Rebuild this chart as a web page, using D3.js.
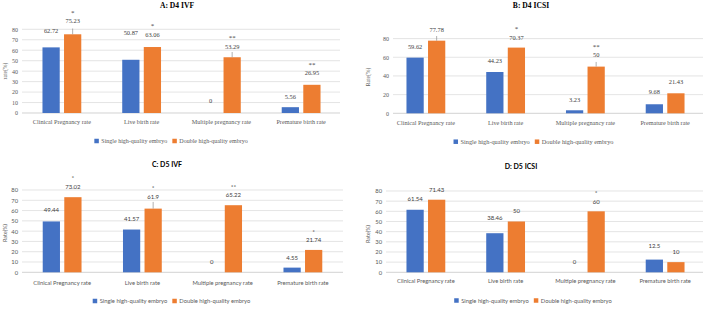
<!DOCTYPE html>
<html>
<head>
<meta charset="utf-8">
<script src="https://cdn.jsdelivr.net/npm/d3@7"></script>
<style>
  html, body { margin: 0; padding: 0; background: #fff; }
  svg { display: block; }
</style>
</head>
<body>
<svg id="chart" width="706" height="309"></svg>
<script>
// ---------------- DATA ----------------
const categories = ["Clinical Pregnancy rate", "Live birth rate", "Multiple pregnancy rate", "Premature birth rate"];
const seriesNames = ["Single high-quality embryo", "Double high-quality embryo"];

const panelTitles = ["A: D4 IVF", "B: D4 ICSI", "C: D5 IVF", "D: D5 ICSI"];
const yAxisTitles = ["rate(%)", "Rate(%)", "Rate(%)", "Rate(%)"];

const d4ivfSingle  = [62.72, 50.87, 0, 5.56];
const d4ivfDouble  = [75.23, 63.06, 53.29, 26.95];
const d4ivfSig     = ["*", "*", "**", "**"];
const d4ivfErr     = [5.5, 0, 5, 0];

const d4icsiSingle = [59.62, 44.23, 3.23, 9.68];
const d4icsiDouble = [77.78, 70.37, 50, 21.43];
const d4icsiSig    = ["", "*", "**", ""];
const d4icsiErr    = [5, 0, 5, 0];

const d5ivfSingle  = [49.44, 41.57, 0, 4.55];
const d5ivfDouble  = [73.02, 61.9, 65.22, 21.74];
const d5ivfSig     = ["*", "*", "**", "*"];
const d5ivfErr     = [0, 6.5, 0, 0];

const d5icsiSingle = [61.54, 38.46, 0, 12.5];
const d5icsiDouble = [71.43, 50, 60, 10];
const d5icsiSig    = ["", "", "*", ""];
const d5icsiErr    = [0, 0, 0, 0];

const ticks10 = [0, 10, 20, 30, 40, 50, 60, 70, 80];
const ticks20 = [0, 20, 40, 60, 80];

// ---------------- LAYOUT ----------------
const colors = ["#4472C4", "#ED7D31"];
const SERIF = "'Liberation Serif', 'Times New Roman', serif";
const SANS = "Lato, 'Open Sans', sans-serif";

const panels = [
  { title: panelTitles[0], yTitle: yAxisTitles[0], single: d4ivfSingle, dbl: d4ivfDouble, sig: d4ivfSig, err: d4ivfErr, ticks: ticks10,
    font: SERIF, x: [22, 341], grid: [22, 340], y: [113, 29.3], titlePos: [177, 5], yTitlePos: [5, 71], catY: 122, legY: 141, legX: 171,
    gapS: [16.7, 27, 12.3, 10.5], gapD: [13.3, 12.7, 10.6, 12], fs: { tick: 6, cat: 6.2, lab: 6.4, leg: 6, title: 7.6, ytitle: 5.6 } },
  { title: panelTitles[1], yTitle: yAxisTitles[1], single: d4icsiSingle, dbl: d4icsiDouble, sig: d4icsiSig, err: d4icsiErr, ticks: ticks20,
    font: SERIF, x: [386, 705], grid: [393, 703], y: [113.3, 38.6], titlePos: [531, 5], yTitlePos: [368, 77], catY: 122.7, legY: 141.7, legX: 533.5,
    gapS: [11, 11.3, 11, 13], gapD: [11.4, 10.3, 11.6, 11.3], fs: { tick: 6, cat: 6.2, lab: 6.4, leg: 6.3, title: 7.6, ytitle: 5.6 } },
  { title: panelTitles[2], yTitle: yAxisTitles[2], single: d5ivfSingle, dbl: d5ivfDouble, sig: d5ivfSig, err: d5ivfErr, ticks: ticks10,
    font: SANS, x: [22, 343], grid: [22, 343], y: [272.3, 190], titlePos: [167, 165], yTitlePos: [5, 233], catY: 282.7, legY: 301, legX: 171.5,
    gapS: [11.4, 10.2, 10, 9.3], gapD: [10.4, 12.2, 10, 10], fs: { tick: 5.8, cat: 5.8, lab: 6, leg: 5.8, title: 7, ytitle: 5.4 } },
  { title: panelTitles[3], yTitle: yAxisTitles[3], single: d5icsiSingle, dbl: d5icsiDouble, sig: d5icsiSig, err: d5icsiErr, ticks: ticks10,
    font: SANS, x: [386, 705], grid: [386, 703], y: [272.3, 191], titlePos: [521, 167], yTitlePos: [368, 234], catY: 281, legY: 300.5, legX: 533,
    gapS: [11.2, 15, 10.6, 13.7], gapD: [9.4, 10.5, 9.5, 10.3], fs: { tick: 5.8, cat: 5.8, lab: 6, leg: 5.8, title: 7, ytitle: 5.4 } }
];

const svg = d3.select("#chart");

panels.forEach(p => {
  const g = svg.append("g").style("font-family", p.font);
  const x = d3.scaleBand().domain(categories).range(p.x).padding(0);
  const xs = d3.scaleBand().domain(seriesNames).range([-19.4, 19.4]).paddingInner(0.2);
  const y = d3.scaleLinear().domain([0, 80]).range(p.y);

  // gridlines
  g.append("g").selectAll("line").data(p.ticks).join("line")
    .attr("x1", p.grid[0]).attr("x2", p.grid[1])
    .attr("y1", d => y(d)).attr("y2", d => y(d))
    .attr("stroke", d => d === 0 ? "#bfbfbf" : "#d9d9d9").attr("stroke-width", 0.7);

  // y axis tick labels via d3 axis
  const yAxis = d3.axisLeft(y).tickValues(p.ticks).tickSize(0).tickPadding(4);
  const ya = g.append("g").attr("transform", `translate(${p.grid[0]},0)`).call(yAxis);
  ya.select(".domain").remove();
  ya.selectAll("text").attr("fill", "#595959").style("font-size", p.fs.tick + "px").style("font-family", p.font);

  // x axis category labels
  const xAxis = d3.axisBottom(x).tickSize(0).tickPadding(0);
  const xa = g.append("g").attr("transform", `translate(0,${p.catY})`).call(xAxis);
  xa.select(".domain").remove();
  xa.selectAll("text").attr("fill", "#595959").attr("dy", "0.35em").attr("y", 0)
    .style("font-size", p.fs.cat + "px").style("font-family", p.font);

  const rows = categories.map((c, i) => ({ c, i, vals: [p.single[i], p.dbl[i]] }));

  rows.forEach(r => {
    r.vals.forEach((v, s) => {
      const cx = x(r.c) + x.bandwidth() / 2;
      const bx = cx + xs(seriesNames[s]);
      const bw = xs.bandwidth();
      g.append("rect").attr("x", bx).attr("width", bw)
        .attr("y", y(v)).attr("height", y(0) - y(v)).attr("fill", colors[s]);
      if (s === 1 && p.err[r.i] > 0) {
        g.append("line").attr("x1", bx + bw / 2).attr("x2", bx + bw / 2)
          .attr("y1", y(v)).attr("y2", y(v + p.err[r.i]))
          .attr("stroke", "#8c8c8c").attr("stroke-width", 0.7);
      }
      const gap = s === 0 ? p.gapS[r.i] : p.gapD[r.i];
      const ly = y(v) - gap;
      g.append("text").attr("x", bx + bw / 2).attr("y", ly).attr("dy", "0.35em")
        .attr("text-anchor", "middle").attr("fill", "#404040")
        .style("font-size", p.fs.lab + "px").text(v);
      if (s === 1 && p.sig[r.i]) {
        g.append("text").attr("x", bx + bw / 2).attr("y", ly - 10).attr("dy", "0.55em")
          .attr("text-anchor", "middle").attr("fill", "#404040")
          .style("font-size", (p.fs.lab + 0.5) + "px").text(p.sig[r.i]);
      }
    });
  });

  // title
  g.append("text").attr("x", p.titlePos[0]).attr("y", p.titlePos[1]).attr("dy", "0.35em")
    .attr("text-anchor", "middle").attr("font-weight", "bold").attr("fill", "#000")
    .style("font-size", p.fs.title + "px").text(p.title);

  // y-axis title
  g.append("text").attr("transform", `translate(${p.yTitlePos[0]},${p.yTitlePos[1]}) rotate(-90)`)
    .attr("dy", "0.35em").attr("text-anchor", "middle").attr("fill", "#595959")
    .style("font-size", p.fs.ytitle + "px").text(p.yTitle);

  // legend
  const lg = g.append("g");
  const items = seriesNames.map((n, s) => {
    const it = lg.append("g");
    it.append("rect").attr("width", 4.5).attr("height", 4.5).attr("y", -2.25).attr("fill", colors[s]);
    const t = it.append("text").attr("x", 7).attr("dy", "0.35em").attr("fill", "#595959")
      .style("font-size", p.fs.leg + "px").text(n);
    return { it, w: 7 + t.node().getComputedTextLength() };
  });
  const spacing = 5;
  const total = items[0].w + spacing + items[1].w;
  let cur = p.legX - total / 2;
  items.forEach(o => { o.it.attr("transform", `translate(${cur},${p.legY})`); cur += o.w + spacing; });
});
</script>
</body>
</html>
